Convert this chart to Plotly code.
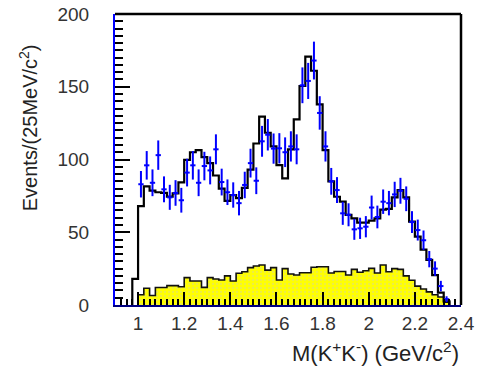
import numpy as np
import plotly.graph_objects as go

# ---------------- data ----------------
bin_width = 0.025

# fitted / MC total histogram (black), first bin starts at 0.975 GeV
mc_start = 0.975
mc_counts = [18, 68, 81.5, 78.6, 77.5, 77, 74.5, 76.7, 84.3, 99.7,
             105, 106.5, 101.7, 97.5, 89, 80, 71.5, 75.5, 73.5, 80.5,
             93, 111, 129.5, 118.4, 109, 96.2, 87, 107, 127.6, 150.5,
             170.7, 161, 137.9, 106.5, 85, 74.4, 71, 62, 59.6, 56.6,
             56.6, 58, 59.6, 65.5, 66, 74, 79, 74, 57.3, 47,
             38, 31, 20.5, 8.5, 2.5]

# background histogram (yellow), first bin starts at 1.000 GeV
bkg_start = 1.0
bkg_counts = [7, 11.5, 6.5, 12, 12, 13.3, 13.3, 12.5, 18.8, 16.5,
              16.5, 12.1, 18.8, 17.9, 17.2, 20, 16.5, 21.8, 22.9, 25.7,
              26.8, 27.5, 24, 25.7, 17.2, 25, 21.3, 20.6, 22.2, 22.2,
              25.9, 26.3, 26.3, 22, 23, 23, 20.6, 24.5, 22.5, 23.5,
              25.2, 22, 27.5, 22.9, 25, 24.5, 20, 17, 13, 11,
              9, 7, 5.5, 2]

# data points (blue) at bin centres, first centre 1.0125 GeV
data_start = 1.0125
data_counts = [83, 96, 84, 103, 79.5, 74, 77, 72, 91, 96,
               84, 95.5, 92.5, 107, 84.5, 77.5, 75.6, 70, 82.5, 97.5,
               85.4, 112.5, 117, 107.5, 107.7, 105, 109, 107, 151, 154,
               168, 132, 109, 85, 79, 63, 62, 52, 52.7, 53.8,
               67, 60.5, 71, 70, 76, 78.5, 73, 57, 51.5, 44.5,
               31.5, 25, 13, 4]
data_err = [9.1, 9.8, 9.2, 10.1, 8.9, 8.6, 8.8, 8.5, 9.5, 9.8,
            9.2, 9.8, 9.6, 10.3, 9.2, 8.8, 8.7, 8.4, 9.1, 9.9,
            9.2, 10.6, 10.8, 10.4, 10.4, 10.2, 10.4, 10.3, 12.3, 12.4,
            13.0, 11.5, 10.4, 9.2, 8.9, 7.9, 7.9, 7.2, 7.3, 7.3,
            8.2, 7.8, 8.4, 8.4, 8.7, 8.9, 8.5, 7.5, 7.2, 6.7,
            5.6, 5.0, 3.6, 2.0]

x_tickvals = [1.0, 1.2, 1.4, 1.6, 1.8, 2.0, 2.2, 2.4]
x_ticktext = ["1", "1.2", "1.4", "1.6", "1.8", "2", "2.2", "2.4"]
y_tickvals = [0, 50, 100, 150, 200]
y_ticktext = ["0", "50", "100", "150", "200"]


def step_xy(start, counts, w):
    counts = np.asarray(counts, dtype=float)
    edges = np.round(start + w * np.arange(len(counts) + 1), 4)
    x = np.concatenate([[edges[0]], edges, [edges[-1]]])
    y = np.concatenate([[0.0], counts, [counts[-1]], [0.0]])
    return x, y


FONT = "Liberation Sans, Arial, sans-serif"

fig = go.Figure()

bx, by = step_xy(bkg_start, bkg_counts, bin_width)
fig.add_trace(go.Scatter(
    x=bx, y=by, mode="lines", line=dict(shape="hv", color="#111111", width=1.6),
    fill="tozeroy", fillcolor="#ffff00",
    fillpattern=dict(shape=".", bgcolor="#ffff00", fgcolor="#d8d890", size=4, solidity=0.25),
    hoverinfo="skip", showlegend=False))

mx, my = step_xy(mc_start, mc_counts, bin_width)
fig.add_trace(go.Scatter(
    x=mx, y=my, mode="lines", line=dict(shape="hv", color="black", width=2.2),
    hoverinfo="skip", showlegend=False))

dx = np.round(data_start + bin_width * np.arange(len(data_counts)), 4)
fig.add_trace(go.Scatter(
    x=dx, y=data_counts, mode="markers",
    marker=dict(size=1, color="rgba(0,0,255,0)"),
    error_y=dict(type="data", array=data_err, visible=True, color="#0000ff", thickness=2, width=0),
    error_x=dict(type="constant", value=0.0115, visible=True, color="#0000ff", thickness=2, width=0),
    showlegend=False))

# top and right frame lines
fig.add_shape(type="line", xref="paper", yref="paper", x0=0, x1=1, y0=1, y1=1,
              line=dict(color="black", width=2.5))
fig.add_shape(type="line", xref="paper", yref="paper", x0=1, x1=1, y0=0, y1=1,
              line=dict(color="black", width=2.5))

fig.update_xaxes(
    range=[0.9, 2.4], showgrid=False, zeroline=False, automargin=False,
    showline=True, linecolor="#000080", linewidth=2,
    tickmode="array", tickvals=x_tickvals, ticktext=x_ticktext,
    ticks="inside", ticklen=13, tickwidth=1.5, tickcolor="black",
    minor=dict(ticks="inside", dtick=bin_width, tick0=1.0, ticklen=6, tickwidth=1.5, tickcolor="black"),
    tickfont=dict(family=FONT, size=19, color="#333333"),
    ticklabelstandoff=0,
)
fig.update_yaxes(
    range=[0, 200], showgrid=False, zeroline=False, automargin=False,
    showline=True, linecolor="#0000ff", linewidth=2,
    tickmode="array", tickvals=y_tickvals, ticktext=y_ticktext,
    ticks="inside", ticklen=15, tickwidth=1.5, tickcolor="black",
    minor=dict(ticks="inside", dtick=5, tick0=0, ticklen=8, tickwidth=1.5, tickcolor="black"),
    tickfont=dict(family=FONT, size=19, color="#333333"),
    ticklabelstandoff=20,
)

fig.add_annotation(
    text="Events/(25MeV/c<sup>2</sup>)", xref="paper", yref="paper",
    x=-0.251, y=0.608, xanchor="center", yanchor="middle", textangle=-90,
    showarrow=False, font=dict(family=FONT, size=20, color="#222222"))
fig.add_annotation(
    text="M(K<sup>+</sup>K<sup>-</sup>) (GeV/c<sup>2</sup>)", xref="paper", yref="paper",
    x=1.0, y=-0.163, xanchor="right", yanchor="middle",
    showarrow=False, font=dict(family=FONT, size=22, color="#222222"))

fig.update_layout(
    width=485, height=367,
    margin=dict(l=115, r=23.5, t=14, b=62, pad=0, autoexpand=False),
    paper_bgcolor="white", plot_bgcolor="white",
    showlegend=False,
)

# remove the default page margin so the figure sits at the window's top-left corner
fig.write_html("out.html", config={"displayModeBar": False},
               post_script="document.body.style.margin='0px';")
